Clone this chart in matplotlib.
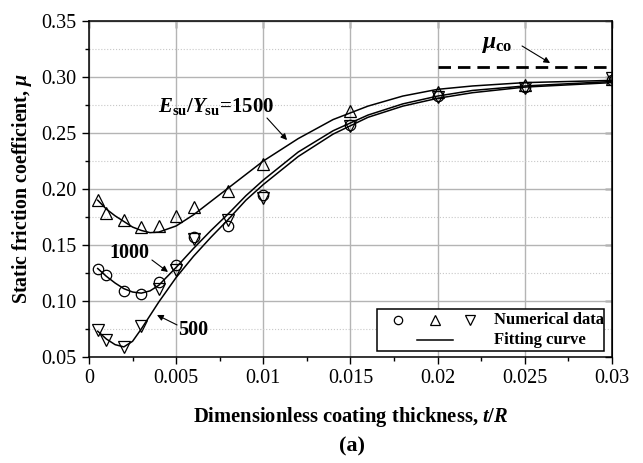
import matplotlib
matplotlib.use('Agg')
import matplotlib.pyplot as plt
from matplotlib.patches import Rectangle
from matplotlib.ticker import MultipleLocator

plt.rcParams['font.family'] = 'Liberation Serif'
plt.rcParams['mathtext.fontset'] = 'custom'
plt.rcParams['mathtext.rm'] = 'Liberation Serif:bold'
plt.rcParams['mathtext.it'] = 'Liberation Serif:italic:bold'
plt.rcParams['mathtext.bf'] = 'Liberation Serif:bold'

# numerical data (t/R, mu)
t_num = [0.0005, 0.001, 0.002, 0.003, 0.004, 0.005, 0.006, 0.008, 0.01, 0.015, 0.02, 0.025, 0.03]
mu_1500 = [0.190, 0.179, 0.172, 0.166, 0.167, 0.176, 0.184, 0.198, 0.222, 0.270, 0.287, 0.293, 0.298]
mu_1000 = [0.129, 0.123, 0.109, 0.106, 0.117, 0.132, 0.157, 0.167, 0.195, 0.257, 0.283, 0.291, 0.297]
mu_500 = [0.074, 0.065, 0.059, 0.078, 0.111, 0.128, 0.155, 0.172, 0.192, 0.256, 0.282, 0.290, 0.299]

# fitting curves
t_fit = [0.0005, 0.001, 0.0015, 0.002, 0.0025, 0.003, 0.0035, 0.004, 0.005, 0.006, 0.007,
         0.008, 0.009, 0.01, 0.012, 0.014, 0.016, 0.018, 0.02, 0.022, 0.025, 0.03]
fit_1500 = [0.190, 0.182, 0.176, 0.171, 0.166, 0.163, 0.161, 0.1615, 0.167, 0.177, 0.189,
            0.201, 0.213, 0.225, 0.245, 0.262, 0.274, 0.283, 0.289, 0.292, 0.295, 0.297]
fit_1000 = [0.129, 0.122, 0.116, 0.111, 0.108, 0.107, 0.109, 0.114, 0.130, 0.147, 0.163,
            0.178, 0.194, 0.208, 0.233, 0.252, 0.266, 0.276, 0.283, 0.288, 0.292, 0.296]
fit_500 = [0.073, 0.066, 0.061, 0.059, 0.064, 0.075, 0.087, 0.099, 0.121, 0.140, 0.157,
           0.173, 0.190, 0.204, 0.229, 0.249, 0.264, 0.274, 0.281, 0.286, 0.291, 0.295]

mu_co = 0.309
mu_co_t = [0.02, 0.03]

x_ticks = [0, 0.005, 0.01, 0.015, 0.02, 0.025, 0.03]
x_labels = ['0', '0.005', '0.01', '0.015', '0.02', '0.025', '0.03']
y_ticks = [0.05, 0.10, 0.15, 0.20, 0.25, 0.30, 0.35]
y_labels = ['0.05', '0.10', '0.15', '0.20', '0.25', '0.30', '0.35']

fig = plt.figure(figsize=(6.43, 4.63), dpi=100)
ax = fig.add_axes([0.1384, 0.229, 0.8134, 0.7256])

mk = dict(mfc='none', mec='k', mew=0.9, ls='none')
ax.plot(t_num, mu_1000, marker='o', ms=7.5, **mk)
ax.plot(t_num, mu_1500, marker='^', ms=8.5, **mk)
ax.plot(t_num, mu_500, marker='v', ms=8.5, **mk)
for f in (fit_1500, fit_1000, fit_500):
    ax.plot(t_fit, f, color='k', lw=1.1)

ax.plot(mu_co_t, [mu_co, mu_co], color='k', lw=2, dashes=(4.5, 2.5), clip_on=False)

ax.set_xlim(0, 0.03)
ax.set_ylim(0.05, 0.35)
ax.set_xticks(x_ticks)
ax.set_xticklabels(x_labels)
ax.set_yticks(y_ticks)
ax.set_yticklabels(y_labels)
ax.xaxis.set_minor_locator(MultipleLocator(0.0025))
ax.yaxis.set_minor_locator(MultipleLocator(0.025))
ax.tick_params(which='major', direction='out', length=5, width=1, labelsize=14.5, pad=4)
ax.tick_params(which='minor', direction='out', length=3, width=1)
ax.grid(which='major', color='#b4b4b4', lw=1)
ax.grid(which='minor', axis='y', color='#c8c8c8', lw=0.8, ls=':')
ax.set_axisbelow(True)
for s in ax.spines.values():
    s.set_linewidth(1.1)

top = ax.secondary_xaxis('top')
top.set_xticks(x_ticks)
top.tick_params(direction='in', length=5, width=1, labeltop=False)
right = ax.secondary_yaxis('right')
right.set_yticks(y_ticks)
right.tick_params(direction='in', length=5, width=1, labelright=False)

ax.set_xlabel('Dimensionless coating thickness, $t/R$', fontsize=14.8, fontweight='bold', labelpad=12)
ax.set_ylabel('Static friction coefficient, $\\mu$', fontsize=14.3, fontweight='bold', labelpad=5)

arrow = dict(arrowstyle='-|>', color='k', lw=0.8, mutation_scale=9, shrinkA=0, shrinkB=0)
ax.text(0.00731, 0.2685, '$E_{\\rm su}/Y_{\\rm su}$=1500', fontsize=15, fontweight='bold',
        ha='center', va='baseline')
ax.annotate('', xy=(0.01136, 0.2437), xytext=(0.01021, 0.2634), arrowprops=arrow)
ax.text(0.0023, 0.1429, '1000', fontsize=14.5, fontweight='bold', ha='center', va='center')
ax.annotate('', xy=(0.00453, 0.1259), xytext=(0.00361, 0.1366), arrowprops=arrow)
ax.text(0.00597, 0.0741, '500', fontsize=14.5, fontweight='bold', ha='center', va='center')
ax.annotate('', xy=(0.0039, 0.0875), xytext=(0.00505, 0.0786), arrowprops=arrow)
ax.text(0.02335, 0.3255, '$\\mu_{\\rm co}$', fontsize=17, ha='center', va='baseline')
ax.annotate('', xy=(0.02645, 0.3125), xytext=(0.02484, 0.3277), arrowprops=arrow)

# legend drawn by hand
ax.add_patch(Rectangle((0.551, 0.018), 0.434, 0.125, transform=ax.transAxes,
                       fc='white', ec='k', lw=1.1, zorder=5))
lk = dict(mfc='none', mec='k', mew=0.9, ls='none', transform=ax.transAxes, zorder=6, clip_on=False)
ax.plot([0.591], [0.110], marker='o', ms=6, **lk)
ax.plot([0.662], [0.110], marker='^', ms=7, **lk)
ax.plot([0.729], [0.110], marker='v', ms=7, **lk)
ax.plot([0.627, 0.696], [0.051, 0.051], color='k', lw=1.1, transform=ax.transAxes, zorder=6)
ax.text(0.774, 0.110, 'Numerical data', fontsize=12, fontweight='bold', transform=ax.transAxes,
        va='center', zorder=6)
ax.text(0.774, 0.051, 'Fitting curve', fontsize=12, fontweight='bold', transform=ax.transAxes,
        va='center', zorder=6)

fig.text(0.547, 0.036, '(a)', fontsize=16, fontweight='bold', ha='center', va='center')

fig.savefig('out.png', dpi=100)
